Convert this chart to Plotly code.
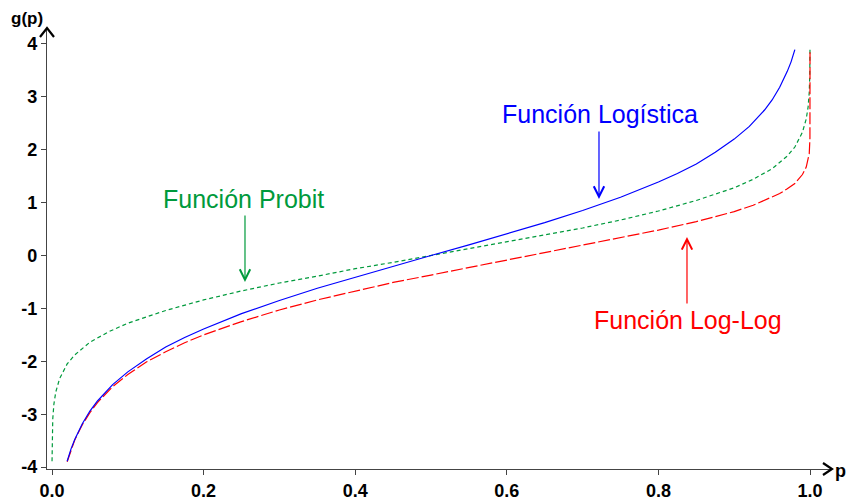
import plotly.graph_objects as go

# ---- data ----
p_logit = [0.02, 0.025, 0.03, 0.035, 0.04, 0.05, 0.06, 0.08, 0.10, 0.125, 0.15, 0.175, 0.20, 0.25,
           0.30, 0.35, 0.40, 0.45, 0.50, 0.55, 0.60, 0.65, 0.70, 0.75, 0.80, 0.825, 0.85, 0.875,
           0.90, 0.92, 0.94, 0.95, 0.96, 0.965, 0.97, 0.975, 0.98]
g_logit = [-3.89, -3.66, -3.48, -3.32, -3.18, -2.94, -2.75, -2.44, -2.20, -1.95, -1.73, -1.55, -1.39,
           -1.10, -0.85, -0.62, -0.41, -0.20, 0.00, 0.20, 0.41, 0.62, 0.85, 1.10, 1.39, 1.55, 1.73,
           1.95, 2.20, 2.44, 2.75, 2.94, 3.18, 3.32, 3.48, 3.66, 3.89]

p_probit = [0.00005, 0.0001, 0.0003, 0.001, 0.0025, 0.005, 0.01, 0.02, 0.03, 0.05, 0.075, 0.10,
            0.15, 0.20, 0.25, 0.30, 0.35, 0.40, 0.45, 0.50, 0.55, 0.60, 0.65, 0.70, 0.75, 0.80,
            0.85, 0.90, 0.925, 0.95, 0.97, 0.98, 0.99, 0.995, 0.9975, 0.999, 0.9997, 0.9999, 0.99995]
g_probit = [-3.89, -3.72, -3.43, -3.09, -2.81, -2.58, -2.33, -2.05, -1.88, -1.64, -1.44, -1.28,
            -1.04, -0.84, -0.67, -0.52, -0.39, -0.25, -0.13, 0.00, 0.13, 0.25, 0.39, 0.52, 0.67,
            0.84, 1.04, 1.28, 1.44, 1.64, 1.88, 2.05, 2.33, 2.58, 2.81, 3.09, 3.43, 3.72, 3.89]

p_loglog = [0.02, 0.025, 0.03, 0.035, 0.04, 0.05, 0.06, 0.08, 0.10, 0.125, 0.15, 0.175, 0.20, 0.25,
            0.30, 0.35, 0.40, 0.45, 0.50, 0.55, 0.60, 0.65, 0.70, 0.75, 0.80, 0.85, 0.90, 0.925,
            0.95, 0.96, 0.97, 0.98, 0.99, 0.995, 0.999, 0.9999, 1.0]
g_loglog = [-3.90, -3.68, -3.49, -3.34, -3.20, -2.97, -2.78, -2.48, -2.25, -2.01, -1.82, -1.65,
            -1.50, -1.25, -1.03, -0.84, -0.67, -0.51, -0.37, -0.23, -0.09, 0.05, 0.19, 0.33, 0.48,
            0.64, 0.83, 0.95, 1.10, 1.17, 1.26, 1.36, 1.53, 1.67, 1.93, 2.22, 3.88]

x_ticks = [0.0, 0.2, 0.4, 0.6, 0.8, 1.0]
x_tick_labels = ["0.0", "0.2", "0.4", "0.6", "0.8", "1.0"]
y_ticks = [-4, -3, -2, -1, 0, 1, 2, 3, 4]
y_tick_labels = ["-4", "-3", "-2", "-1", "0", "1", "2", "3", "4"]

BLUE = "#0000FF"
GREEN = "#009A3C"
RED = "#FF0000"
FONT = "Liberation Sans, Arial, sans-serif"

fig = go.Figure()
fig.add_trace(go.Scatter(x=p_probit, y=g_probit, mode="lines",
                         line=dict(color=GREEN, width=1.2, dash="4px,3px")))
fig.add_trace(go.Scatter(x=p_loglog, y=g_loglog, mode="lines",
                         line=dict(color=RED, width=1.2, dash="12px,3px")))
fig.add_trace(go.Scatter(x=p_logit, y=g_logit, mode="lines",
                         line=dict(color=BLUE, width=1.2)))

W, H = 849, 500
L, R, T, B = 47, 17, 28, 31
pw, ph = W - L - R, H - T - B

fig.update_layout(
    width=W, height=H,
    margin=dict(l=L, r=R, t=T, b=B, pad=0, autoexpand=False),
    paper_bgcolor="white", plot_bgcolor="white",
    showlegend=False,
    font=dict(family=FONT),
    xaxis=dict(range=[-0.0066, 1.029], showgrid=False, zeroline=False, automargin=False,
               showline=True, linecolor="#444444", linewidth=1.2,
               ticks="outside", ticklen=5, tickwidth=1, tickcolor="#444444",
               tickvals=x_ticks, ticktext=x_tick_labels,
               tickfont=dict(family=FONT, size=18, color="black", weight="bold")),
    yaxis=dict(range=[-4.036, 4.30], showgrid=False, zeroline=False, automargin=False,
               showline=True, linecolor="#444444", linewidth=1.2,
               ticks="outside", ticklen=5, tickwidth=1, tickcolor="#444444",
               tickvals=y_ticks, ticktext=y_tick_labels,
               tickfont=dict(family=FONT, size=18, color="black", weight="bold")),
)

# axis arrowheads (paper coordinates)
ax_dx, ax_dy = 9 / pw, 6 / ph
fig.add_shape(type="path", xref="paper", yref="paper",
              path=f"M {1 - ax_dx},{-ax_dy} L 1,0 L {1 - ax_dx},{ax_dy}",
              line=dict(color="black", width=2.2))
ay_dx, ay_dy = 7 / pw, 9 / ph
fig.add_shape(type="path", xref="paper", yref="paper",
              path=f"M {-ay_dx},{1 - ay_dy} L 0,1 L {ay_dx},{1 - ay_dy}",
              line=dict(color="black", width=2.2))

# axis titles
fig.add_annotation(text="<b>g(p)</b>", xref="paper", yref="paper",
                   x=(27 - L) / pw, y=(H - B - 19) / ph, showarrow=False,
                   xanchor="center", yanchor="middle",
                   font=dict(family="Liberation Sans Narrow, Arial Narrow, " + FONT, size=17, color="black"))
fig.add_annotation(text="<b>p</b>", xref="paper", yref="paper",
                   x=(848 - L) / pw, y=-2 / ph, showarrow=False,
                   xanchor="right", yanchor="middle",
                   font=dict(family=FONT, size=18, color="black"))

# curve labels
fig.add_annotation(text="Función Logística", x=0.723, y=2.67, showarrow=False,
                   xanchor="center", yanchor="middle", font=dict(family=FONT, size=25, color=BLUE))
fig.add_annotation(text="", x=0.7216, y=1.07, ax=0, ay=-69, showarrow=True,
                   arrowhead=5, arrowsize=1.7, arrowwidth=1.2, arrowcolor=BLUE)

fig.add_annotation(text="Función Probit", x=0.253, y=1.07, showarrow=False,
                   xanchor="center", yanchor="middle", font=dict(family=FONT, size=25, color=GREEN))
fig.add_annotation(text="", x=0.2546, y=-0.50, ax=0, ay=-68, showarrow=True,
                   arrowhead=5, arrowsize=1.7, arrowwidth=1.2, arrowcolor=GREEN)

fig.add_annotation(text="Función Log-Log", x=0.839, y=-1.22, showarrow=False,
                   xanchor="center", yanchor="middle", font=dict(family=FONT, size=25, color=RED))
fig.add_annotation(text="", x=0.8377, y=0.35, ax=0, ay=68, showarrow=True,
                   arrowhead=5, arrowsize=1.7, arrowwidth=1.2, arrowcolor=RED)

fig.write_html("out.html")
